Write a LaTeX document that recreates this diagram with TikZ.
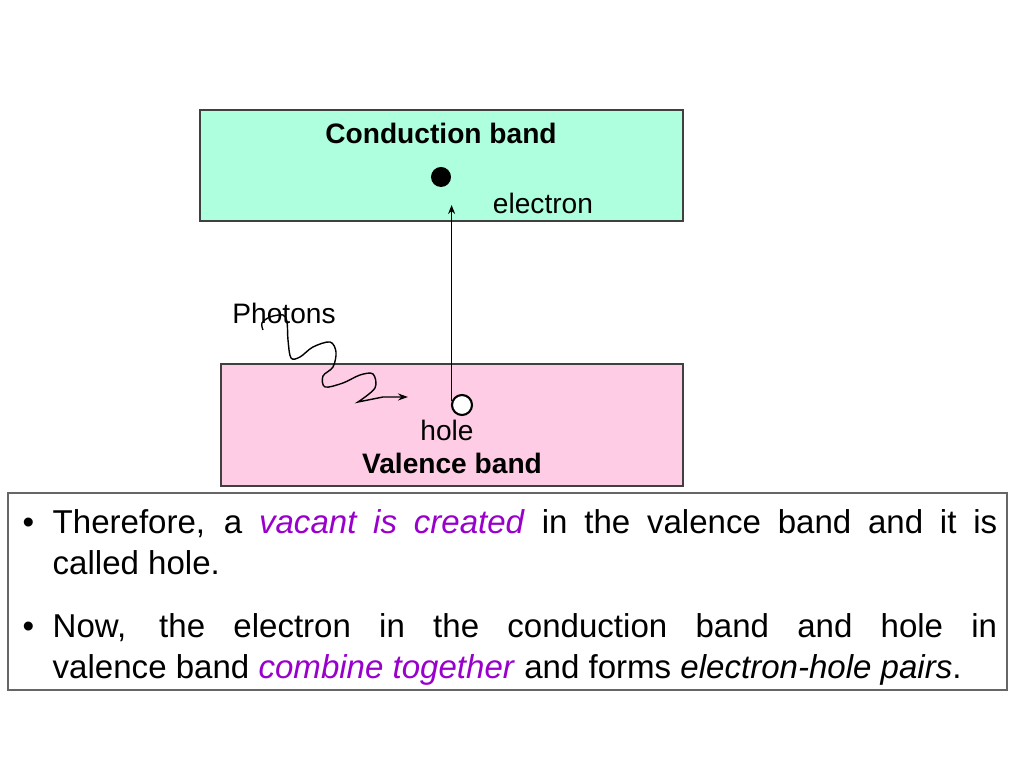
\documentclass[tikz,border=0pt]{standalone}
\usepackage{fontspec}
\setmainfont{Liberation Sans}
\usetikzlibrary{arrows.meta}
\definecolor{condfill}{RGB}{174,255,222}
\definecolor{valfill}{RGB}{255,204,230}
\definecolor{lilac}{RGB}{153,0,204}
\newcommand*{\BandFont}{\fontsize{8}{9.6}\selectfont}
\newcommand*{\Hi}[1]{\textcolor{lilac}{\textit{#1}}}
\newcommand*{\Pt}{\noindent\hangindent=0.3cm\hangafter=1\makebox[0.3cm][l]{\textbullet}}
\tikzset{
  band/.style={draw=black!75, line width=0.4pt},
  label/.style={font=\BandFont, inner sep=0pt}
}

\begin{document}
\begin{tikzpicture}[x=0.01cm, y=-0.01cm]
            \useasboundingbox (0,0) rectangle (1024,768);
            % the two bands
            \draw[band, fill=condfill] (200,110) rectangle (683,221);
            \draw[band, fill=valfill] (221,364) rectangle (683,486);
            \node[label, font=\BandFont\bfseries] (cband) at (441,133) {Conduction band};
            \node[label, font=\BandFont\bfseries] (vband) at (452,463) {Valence band};
            % electron and hole
            \node[circle, fill=black, inner sep=0pt, minimum size=0.2cm] (elec) at (441,177) {};
            \node[label] (electxt) at (543,203) {electron};
            \node[circle, draw=black, fill=white, line width=0.6pt, inner sep=0pt, minimum size=0.2cm] (hole) at (462,405) {};
            \node[label] (holetxt) at (447,430) {hole};
            \coordinate (jump) at (452,205);
            \draw[-{Stealth[length=0.09cm, width=0.07cm]}, line width=0.5pt] (hole.160) -- (hole.160 |- jump);
            % incoming photon
            \node[label] (photons) at (284,313) {Photons};
            \draw[-{Stealth[length=0.1cm, width=0.07cm]}, line width=0.4pt]
              plot[smooth, tension=0.55] coordinates {(263,330) (262,323) (270,317) (283,315) (287,322)
                (288,340) (291,358) (300,357) (313,347) (330,342) (336,352) (333,367) (323,376)
                (325,387) (343,383) (360,375) (373,374) (375,388) (358,402)}
              -- (383,397) -- (408,397);
            % explanation
            \draw[draw=black!60, line width=0.5pt] (8,493) rectangle (1007,690);
            \node[anchor=north west, inner sep=0pt, text width=9.74cm, align=justify,
                  font=\fontsize{9.4}{11.7}\selectfont] (notes) at (22,509) {%
              \Pt Therefore, a \Hi{vacant is created} in the valence band and it is\linebreak called hole.\par
              \vspace{6pt}
              \Pt Now, the electron in the conduction band and hole in\linebreak valence band \Hi{combine together} and forms \textit{electron-hole pairs}.\par};
          \end{tikzpicture}
\end{document}
